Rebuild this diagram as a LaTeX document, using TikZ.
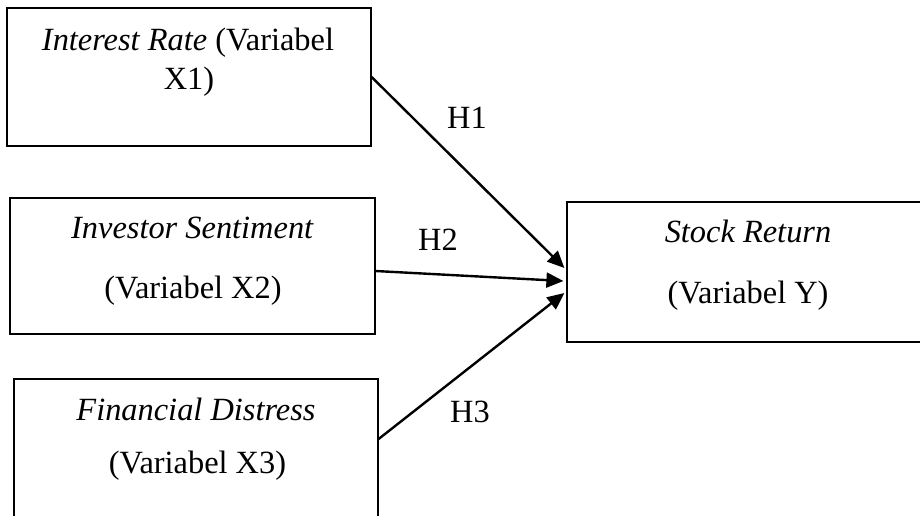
\documentclass[tikz,border=0pt]{standalone}
\usepackage{fontspec}
\setmainfont{Liberation Serif}
\usetikzlibrary{arrows.meta,calc}
\begin{document}
\begin{tikzpicture}[x=1pt,y=-1pt,
  box/.style={draw,line width=1.2pt,rectangle,inner sep=0pt},
  txt/.style={anchor=base,inner sep=0pt,font=\fontsize{32.4}{38}\selectfont},
  conn/.style={line width=2.4pt,-{Triangle[length=17pt,width=15pt]}}]
\useasboundingbox (0,0) rectangle (920,515);
\clip (0,0) rectangle (920,515);
\fill[white] (0,0) rectangle (920,515);
\node[box,minimum width=364pt,minimum height=138pt] (b1) at (189,77) {};
\node[box,minimum width=365pt,minimum height=136pt] (b2) at (192.5,266) {};
\node[box,minimum width=364pt,minimum height=181pt] (b3) at (196,469.5) {};
\node[box,minimum width=363pt,minimum height=140pt] (bY) at (748.5,272) {};
\node[txt] (t1a) at (188,50) {\textit{Interest Rate} (Variabel};
\node[txt] (t1b) at (189,89) {X1)};
\node[txt] (t2a) at (192.5,238) {\textit{Investor Sentiment}};
\node[txt] (t2b) at (193,298) {(Variabel X2)};
\node[txt] (t3a) at (196,420) {\textit{Financial Distress}};
\node[txt] (t3b) at (197.5,473) {(Variabel X3)};
\node[txt] (tYa) at (748,242) {\textit{Stock Return}};
\node[txt] (tYb) at (748,303) {(Variabel Y)};
\node[txt] (h1) at (467,128) {H1};
\node[txt] (h2) at (438,250) {H2};
\node[txt] (h3) at (470,422) {H3};
\coordinate (s1) at (b1.east);
\coordinate (s2) at ($(b2.east)+(0,5)$);
\coordinate (s3) at ($(b3.east)+(0,-30.5)$);
\coordinate (e1) at ($(bY.west)+(-2,-4)$);
\coordinate (e2) at ($(bY.west)+(-3,9)$);
\coordinate (e3) at ($(bY.west)+(-2,21)$);
\draw[conn] (s1) -- (e1);
\draw[conn] (s2) -- (e2);
\draw[conn] (s3) -- (e3);
\end{tikzpicture}
\end{document}
